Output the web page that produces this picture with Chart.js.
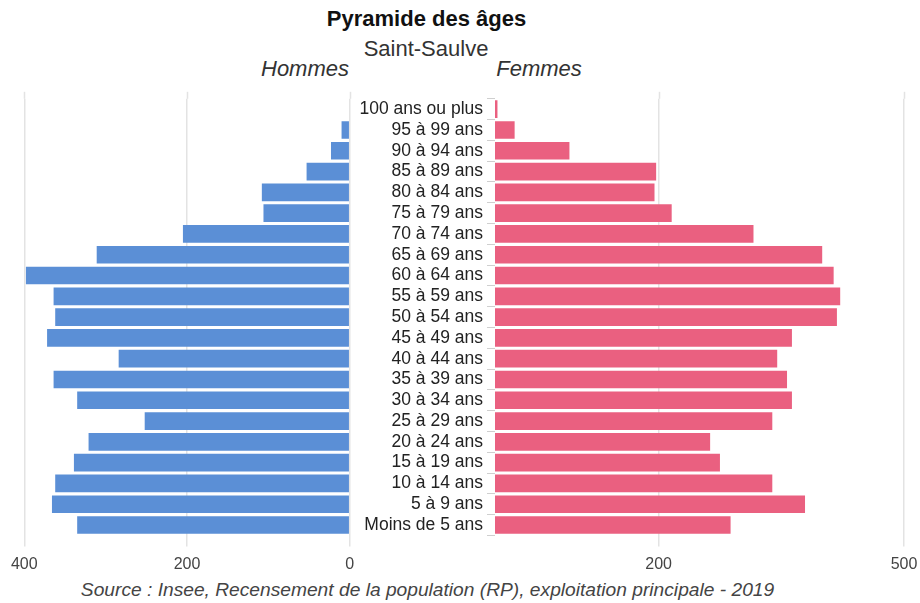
<!DOCTYPE html>
<html>
<head>
<meta charset="utf-8">
<script src="https://cdn.jsdelivr.net/npm/chart.js@4"></script>
<style>
  html, body { margin: 0; padding: 0; background: #fff; }
  body { width: 920px; height: 603px; position: relative; overflow: hidden; font-family: "Liberation Sans", Arial, sans-serif; }
  .t { position: absolute; white-space: nowrap; line-height: 1; transform: translateX(-50%); }
  canvas { position: absolute; top: 0; }
</style>
</head>
<body>
<div class="t" id="title" style="left:426.5px; top:8px; font-size:22px; font-weight:bold; color:#111;">Pyramide des âges</div>
<div class="t" id="sub" style="left:426px; top:38px; font-size:22px; color:#333;">Saint-Saulve</div>
<div class="t" style="left:305px; top:57.5px; font-size:22px; font-style:italic; color:#333;">Hommes</div>
<div class="t" style="left:539px; top:57.5px; font-size:22px; font-style:italic; color:#333;">Femmes</div>
<div class="t" style="left:427.5px; top:580px; font-size:19.2px; font-style:italic; color:#444;">Source : Insee, Recensement de la population (RP), exploitation principale - 2019</div>
<canvas id="left" width="360" height="575" style="left:0px;"></canvas>
<canvas id="right" width="560" height="575" style="left:360px;"></canvas>
<script>
const ageGroups = ["100 ans ou plus","95 à 99 ans","90 à 94 ans","85 à 89 ans","80 à 84 ans","75 à 79 ans","70 à 74 ans","65 à 69 ans","60 à 64 ans","55 à 59 ans","50 à 54 ans","45 à 49 ans","40 à 44 ans","35 à 39 ans","30 à 34 ans","25 à 29 ans","20 à 24 ans","15 à 19 ans","10 à 14 ans","5 à 9 ans","Moins de 5 ans"];
const hommes = [0,10,23,53,108,106,205,311,398,364,362,372,284,364,335,252,321,339,362,366,335];
const femmes = [3,24,91,197,195,216,316,400,414,422,418,363,345,357,363,339,263,275,339,379,288];
const leftTicks = [0,200,400];
const rightTicks = [200,500];

const gridColor = '#e3e3e3';
const topExt = {
  id: 'topExt',
  beforeDatasetsDraw(chart) {
    const s = chart.scales.x, ctx = chart.ctx, top = chart.chartArea.top;
    ctx.save();
    ctx.strokeStyle = gridColor; ctx.lineWidth = 1.5;
    s.ticks.forEach(t => {
      const x = Math.round(s.getPixelForValue(t.value)) + 0.5;
      ctx.beginPath(); ctx.moveTo(x, top - 7); ctx.lineTo(x, top); ctx.stroke();
    });
    ctx.restore();
  }
};

function xAxis(min, max, ticksArr, reverse) {
  return {
    type: 'linear', min: min, max: max, reverse: reverse,
    afterBuildTicks: s => { s.ticks = ticksArr.map(v => ({value: v})); },
    afterFit: s => { s.height = 39.6; s.paddingLeft = 0; s.paddingRight = 0; },
    grid: { color: gridColor, lineWidth: 1.5, tickLength: 11, tickColor: gridColor },
    border: { display: false },
    ticks: { color: '#444', font: { family: 'Liberation Sans', size: 16 }, padding: 9, maxRotation: 0, autoSkip: false }
  };
}

Chart.defaults.font.family = 'Liberation Sans';
Chart.defaults.devicePixelRatio = 1;

new Chart(document.getElementById('left'), {
  type: 'bar',
  data: { labels: ageGroups, datasets: [{ label: 'Hommes', data: hommes, backgroundColor: '#5b8fd6', categoryPercentage: 1, barPercentage: 0.85 }] },
  options: {
    indexAxis: 'y', responsive: false, animation: false,
    layout: { padding: { left: 24.3, right: 10.3, top: 98.8, bottom: 0 } },
    plugins: { legend: { display: false }, tooltip: { enabled: false } },
    scales: {
      x: xAxis(0, 400, leftTicks, true),
      y: { display: false }
    }
  },
  plugins: [topExt]
});

new Chart(document.getElementById('right'), {
  type: 'bar',
  data: { labels: ageGroups, datasets: [{ label: 'Femmes', data: femmes, backgroundColor: '#ea6080', categoryPercentage: 1, barPercentage: 0.85 }] },
  options: {
    indexAxis: 'y', responsive: false, animation: false,
    layout: { padding: { left: 0, right: 16, top: 98.8, bottom: 0 } },
    plugins: { legend: { display: false }, tooltip: { enabled: false } },
    scales: {
      x: xAxis(0, 500, rightTicks, false),
      y: {
        position: 'left',
        afterFit: s => { s.width = 135; },
        grid: { drawOnChartArea: false, tickLength: 8, tickColor: '#cfcfcf', lineWidth: 1 },
        border: { display: false },
        ticks: { color: '#222', font: { family: 'Liberation Sans', size: 17.5 }, padding: 4, autoSkip: false }
      }
    }
  },
  plugins: [topExt]
});
</script>
</body>
</html>
